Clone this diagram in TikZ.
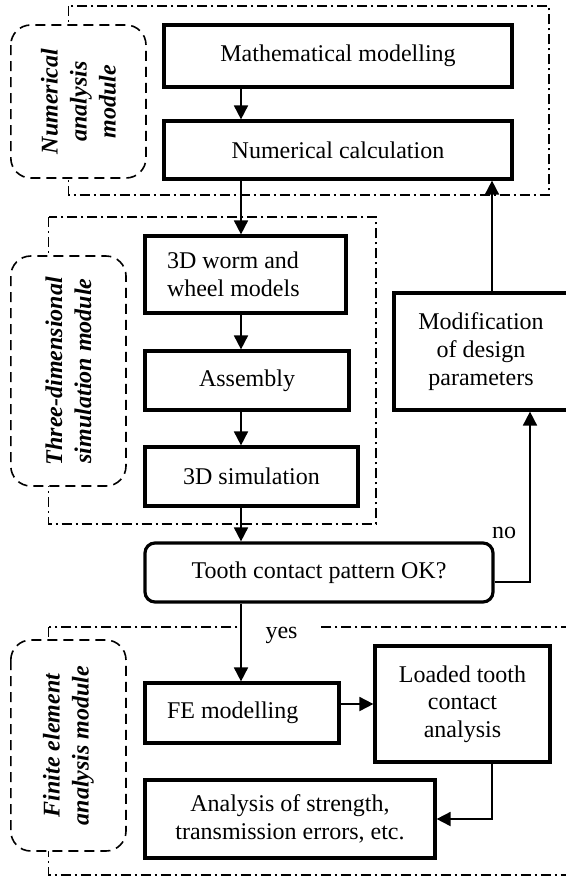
\documentclass[tikz,border=0pt]{standalone}
\usepackage{fontspec}
\setmainfont{Liberation Serif}
\usetikzlibrary{arrows.meta}

\begin{document}
\begin{tikzpicture}[x=0.5pt,y=-0.5pt,>={Triangle[length=7pt,width=7pt]},
    font=\fontsize{12}{13.8}\selectfont,
    box/.style={draw,line width=1.6pt,align=center,inner sep=0pt},
    modbox/.style={line width=0.6pt,dash pattern=on 5pt off 2pt on 1pt off 2pt},
    labbox/.style={draw,fill=white,rounded corners=10pt,line width=0.8pt,dash pattern=on 5pt off 3pt,
        rotate=90,align=center,inner sep=0pt,font=\fontsize{12}{14.5}\selectfont\bfseries\itshape},
    flow/.style={->,line width=0.9pt}]
    \useasboundingbox (0,0) rectangle (566,880);
    % 模块框
    \draw[modbox] (68.6,6) rectangle (549,195);
    \draw[modbox] (48.7,217) rectangle (376,524);
    \draw[modbox] (48.7,627) rectangle (572,875);
    % 模块名
    \node[labbox,minimum width=76.5pt,minimum height=67.6pt] (numlab) at (78.4,101.5) {Numerical\\analysis\\module};
    \node[labbox,minimum width=115pt,minimum height=57.6pt] (simlab) at (68.4,371) {Three-dimensional\\simulation module};
    \node[labbox,minimum width=105.5pt,minimum height=57.6pt] (felab) at (68.4,745.5) {Finite element\\analysis module};
    % 流程框
    \node[box,minimum width=174pt,minimum height=31pt] (math) at (338,56) {Mathematical modelling};
    \node[box,minimum width=174pt,minimum height=29pt] (numcalc) at (338,150) {Numerical calculation};
    \node[box,minimum width=100.5pt,minimum height=38.5pt,text width=78.5pt,inner xsep=11pt,align=flush left] (worm) at (245.5,274.5) {3D worm and\\wheel models};
    \node[box,minimum width=102pt,minimum height=29.5pt] (asm) at (247,380.5) {Assembly};
    \node[box,minimum width=106.5pt,minimum height=29.5pt] (sim) at (251.5,476.5) {3D simulation};
    \node[box,rounded corners=5pt,minimum width=174pt,minimum height=29.5pt] (tooth) at (319,572.5) {Tooth contact pattern OK?};
    \node[box,minimum width=87pt,minimum height=58.5pt] (modif) at (481,351.5) {Modification\\of design\\parameters};
    \node[box,minimum width=97pt,minimum height=30pt,text width=75pt,inner xsep=11pt,align=flush left] (fe) at (242,713) {FE modelling};
    \node[box,minimum width=87.5pt,minimum height=58pt] (loaded) at (462.5,704) {Loaded tooth\\contact\\analysis};
    \node[box,minimum width=145pt,minimum height=39pt] (ana) at (290,819) {Analysis of strength,\\transmission errors, etc.};
    % 箭头
    \coordinate (ax) at (241,0);
    \coordinate (bx) at (492,0);
    \coordinate (cx) at (530,0);
    \draw[flow] (math.south -| ax) -- (numcalc.north -| ax);
    \draw[flow] (numcalc.south -| ax) -- (worm.north -| ax);
    \draw[flow] (worm.south -| ax) -- (asm.north -| ax);
    \draw[flow] (asm.south -| ax) -- (sim.north -| ax);
    \draw[flow] (sim.south -| ax) -- (tooth.north -| ax);
    \node[fill=white,inner sep=0pt,minimum width=39.5pt,minimum height=10pt] (yes) at (281.5,635) {yes};
    \draw[flow] (tooth.south -| ax) -- (fe.north -| ax);
    \draw[flow] ([yshift=-4.75pt]tooth.east) -| (modif.south -| cx);
    \node (no) at (504,533) {no};
    \draw[flow] (modif.north -| bx) -- (numcalc.south -| bx);
    \draw[flow] (fe.east |- loaded.west) -- (loaded.west);
    \draw[flow] (loaded.south -| bx) |- (ana.east);
\end{tikzpicture}
\end{document}
